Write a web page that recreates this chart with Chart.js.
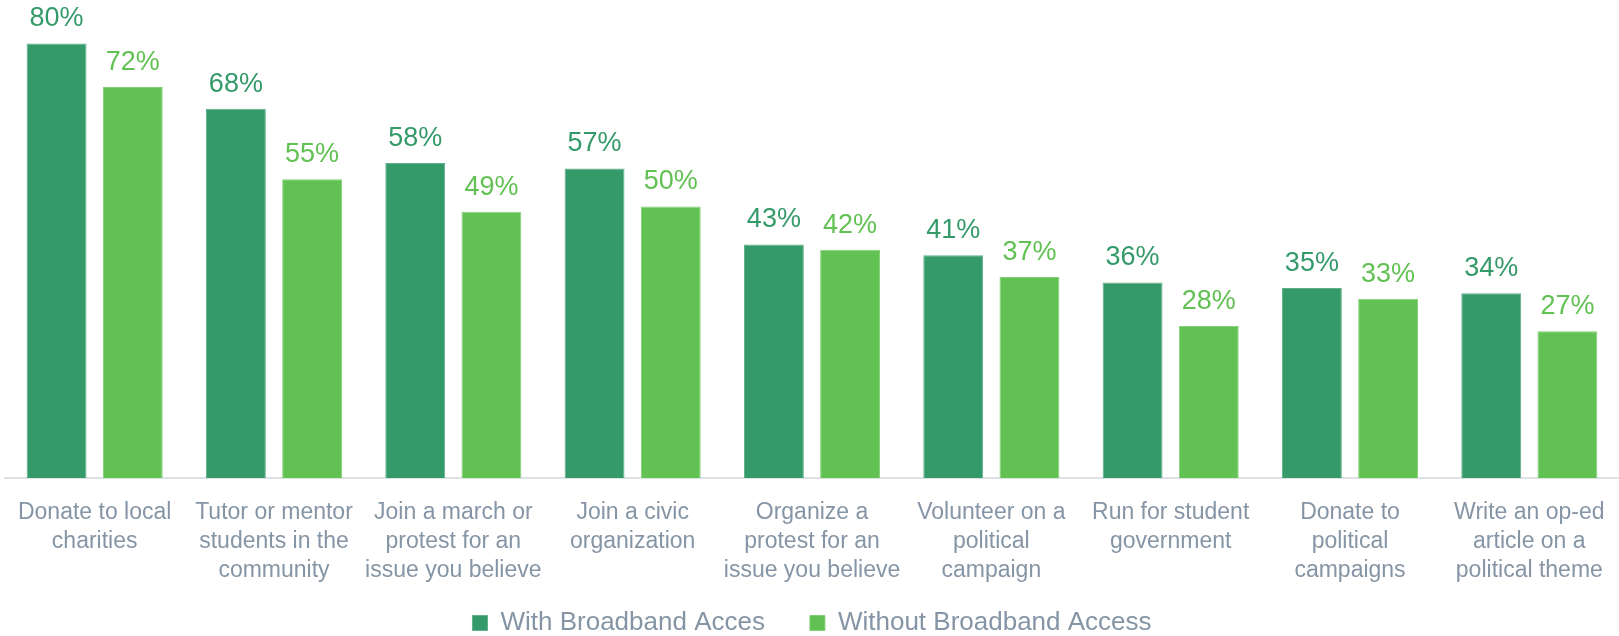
<!DOCTYPE html>
<html>
<head>
<meta charset="utf-8">
<script src="https://cdn.jsdelivr.net/npm/chart.js@4.4.1/dist/chart.umd.min.js"></script>
<style>
  html, body { margin: 0; padding: 0; background: #ffffff; }
  #wrap { width: 1619px; height: 636px; position: relative; }
</style>
</head>
<body>
<div id="wrap"><canvas id="civic"></canvas></div>
<script>
var categories = [
    ['Donate to local', 'charities'],
    ['Tutor or mentor', 'students in the', 'community'],
    ['Join a march or', 'protest for an', 'issue you believe'],
    ['Join a civic', 'organization'],
    ['Organize a', 'protest for an', 'issue you believe'],
    ['Volunteer on a', 'political', 'campaign'],
    ['Run for student', 'government'],
    ['Donate to', 'political', 'campaigns'],
    ['Write an op-ed', 'article on a', 'political theme']
];
var withBroadband = [80, 68, 58, 57, 43, 41, 36, 35, 34];
var withoutBroadband = [72, 55, 49, 50, 42, 37, 28, 33, 27];

var darkGreen = '#359a69';
var lightGreen = '#62c153';
var labelGrey = '#8595a5';

// percentage labels above every bar, placed from the bar elements
var valueLabels = {
    id: 'valueLabels',
    afterDatasetsDraw: function(chart){
        var ctx = chart.ctx;
        ctx.save();
        ctx.font = '27px "Liberation Sans", Arial, sans-serif';
        ctx.textAlign = 'center';
        ctx.textBaseline = 'alphabetic';
        chart.data.datasets.forEach(function(ds, i){
            var meta = chart.getDatasetMeta(i);
            ctx.fillStyle = ds.backgroundColor;
            meta.data.forEach(function(bar, j){
                ctx.fillText(ds.data[j] + '%', bar.x, bar.y - 17);
            });
        });
        ctx.restore();
    }
};

// legend keeps wide item spacing (padding) but starts a bit higher
var legendShift = {
    id: 'legendShift',
    afterLayout: function(chart){
        chart.legend.top -= 18;
    }
};

new Chart(document.getElementById('civic').getContext('2d'), {
    type: 'bar',
    data: {
        labels: categories,
        datasets: [{
            label: 'With Broadband Acces',
            data: withBroadband,
            backgroundColor: darkGreen,
            borderColor: '#5fb088',
            borderWidth: 1,
            categoryPercentage: 0.85,
            barPercentage: 0.786
        }, {
            label: 'Without Broadband Access',
            data: withoutBroadband,
            backgroundColor: lightGreen,
            borderColor: '#84cf78',
            borderWidth: 1,
            categoryPercentage: 0.85,
            barPercentage: 0.786
        }]
    },
    options: {
        responsive: true,
        maintainAspectRatio: false,
        animation: false,
        layout: { padding: { left: 5, right: 0, top: 0, bottom: 0 } },
        scales: {
            x: {
                grid: { display: false },
                border: { display: true, color: '#dde2e6', width: 2 },
                ticks: {
                    color: labelGrey,
                    font: { family: '"Liberation Sans", Arial, sans-serif', size: 23, lineHeight: 1.26 },
                    padding: 12,
                    maxRotation: 0,
                    autoSkip: false
                },
                afterFit: function(scale){ scale.height = 105; }
            },
            y: {
                display: false,
                min: 0,
                max: 88
            }
        },
        plugins: {
            legend: {
                position: 'bottom',
                maxHeight: 53,
                labels: {
                    color: labelGrey,
                    font: { family: '"Liberation Sans", Arial, sans-serif', size: 26 },
                    boxWidth: 15,
                    boxHeight: 15,
                    padding: 45
                }
            },
            tooltip: { enabled: false }
        }
    },
    plugins: [valueLabels, legendShift]
});
</script>
</body>
</html>
